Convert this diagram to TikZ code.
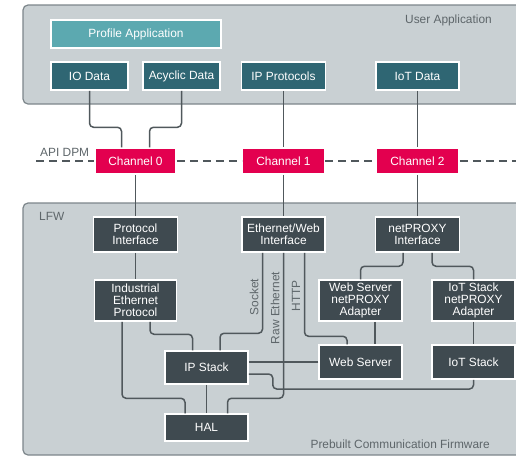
\documentclass[tikz,border=0pt]{standalone}
\usepackage{fontspec}
\setmainfont{Liberation Sans}
\usepackage{tikz}
\definecolor{panelfill}{HTML}{C9D0D3}
\definecolor{paneldraw}{HTML}{7D868B}
\definecolor{tealapp}{HTML}{5CA9B0}
\definecolor{tealdark}{HTML}{2F6673}
\definecolor{chred}{HTML}{E3004F}
\definecolor{slate}{HTML}{3F4A50}
\definecolor{wirecol}{HTML}{50585C}
\definecolor{labelgray}{HTML}{5E666A}

\begin{document}
\begin{tikzpicture}[x=1pt, y=-1pt, font=\fontsize{11.9}{12}\selectfont,
	panel/.style={draw=paneldraw, fill=panelfill, line width=1.2pt, rounded corners=5pt},
	blk/.style={draw=white, line width=1.5pt, text=white, align=center, inner sep=0pt, minimum width=83pt},
	appbox/.style={blk, fill=tealapp, minimum height=28pt},
	databox/.style={blk, fill=tealdark, minimum height=28pt},
	chan/.style={blk, fill=chred, minimum height=26pt},
	fwbox/.style={blk, fill=slate},
	wire/.style={draw=wirecol, line width=1.5pt, rounded corners=4pt},
	lbl/.style={text=labelgray, inner sep=0pt},
	dpm/.style={draw=wirecol, line width=1.2pt, dash pattern=on 8pt off 5pt}]
			\useasboundingbox (0,0) rectangle (516,456);
			\draw[panel] (23,5) rectangle (540,104);
			\draw[panel] (23,203) rectangle (540,455);
			\node[lbl, anchor=east] (userapp) at (492,20) {User Application};
			\node[lbl, anchor=west] (apidpm) at (40,152) {API DPM};
			\node[lbl, anchor=west] (lfw) at (39,216) {LFW};
			\node[lbl, anchor=east] (prebuilt) at (490,444) {Prebuilt Communication Firmware};
			\node[appbox, minimum width=170pt] (profapp) at (136,34) {Profile Application};
			\node[databox, minimum width=77pt] (iodata) at (89.5,76) {IO Data};
			\node[databox, minimum width=77pt] (acycdata) at (181.5,76) {Acyclic Data};
			\node[databox, minimum width=84pt] (ipproto) at (283.5,76) {IP Protocols};
			\node[databox] (iotdata) at (417.5,76) {IoT Data};
			\node[chan, minimum width=81pt] (chan0) at (135.5,161) {Channel 0};
			\node[chan, minimum width=82pt] (chan1) at (283.5,161) {Channel 1};
			\node[chan] (chan2) at (417.5,161) {Channel 2};
			\node[fwbox, minimum width=84pt, minimum height=35pt] (protif) at (135.5,234.5) {Protocol\\Interface};
			\node[fwbox, minimum height=35pt] (ethif) at (283.5,234.5) {Ethernet/Web\\Interface};
			\node[fwbox, minimum width=84pt, minimum height=35pt] (proxyif) at (417.5,234.5) {netPROXY\\Interface};
			\node[fwbox, minimum width=82pt, minimum height=41pt] (indeth) at (135.5,300.5) {Industrial\\Ethernet\\Protocol};
			\node[fwbox, minimum height=41pt] (wsadapt) at (360.5,300.5) {Web Server\\netPROXY\\Adapter};
			\node[fwbox, minimum height=41pt] (iotadapt) at (473.5,300.5) {IoT Stack\\netPROXY\\Adapter};
			\node[fwbox, minimum height=33pt] (ipstack) at (206.5,367.5) {IP Stack};
			\node[fwbox, minimum height=34pt] (websrv) at (360.5,362) {Web Server};
			\node[fwbox, minimum height=34pt] (iotstack) at (473.5,362) {IoT Stack};
			\node[fwbox, minimum height=27pt] (hal) at (206.5,427.5) {HAL};
			\node[lbl, rotate=90] (socketlbl) at (254,297) {Socket};
			\node[lbl, rotate=90] (rawlbl) at (275,308) {Raw Ethernet};
			\node[lbl, rotate=90] (httplbl) at (296,296) {HTTP};
			\coordinate (dpmleft) at (36,161);
			\coordinate (dpmright) at (516,161);
			\draw[dpm] 	(dpmleft) -- (chan0.west) (chan0.east) -- (chan1.west)
					(chan1.east) -- (chan2.west) (chan2.east) -- (dpmright);
			\draw[wire] (iodata.south) |- ([xshift=-14pt,yshift=20pt]chan0.north) -- ([xshift=-14pt]chan0.north);
			\draw[wire] (acycdata.south) |- ([xshift=14pt,yshift=20pt]chan0.north) -- ([xshift=14pt]chan0.north);
			\draw[wire] (ipproto) -- (chan1);
			\draw[wire] (iotdata) -- (chan2);
			\draw[wire] (chan0) -- (protif);
			\draw[wire] (chan1) -- (ethif);
			\draw[wire] (chan2) -- (proxyif);
			\draw[wire] (protif) -- (indeth);
			\draw[wire] ([xshift=-21pt]ethif.south) |- ([xshift=13.5pt,yshift=17pt]ipstack.north) -- ([xshift=13.5pt]ipstack.north);
			\draw[wire] (ethif.south) |- ([xshift=21pt,yshift=15pt]hal.north) -- ([xshift=21pt]hal.north);
			\draw[wire] ([xshift=21pt]ethif.south) |- ([xshift=-13.5pt,yshift=8pt]websrv.north) -- ([xshift=-13.5pt]websrv.north);
			\draw[wire] ([xshift=-14.5pt]proxyif.south) |- ([yshift=13pt]wsadapt.north) -- (wsadapt.north);
			\draw[wire] ([xshift=14.5pt]proxyif.south) |- ([yshift=13pt]iotadapt.north) -- (iotadapt.north);
			\draw[wire] ([xshift=14.5pt]wsadapt.south) -- ([xshift=14.5pt]websrv.north);
			\draw[wire] (iotadapt) -- (iotstack);
			\draw[wire] ([xshift=-13.5pt]indeth.south) |- ([xshift=-21.5pt,yshift=15pt]hal.north) -- ([xshift=-21.5pt]hal.north);
			\draw[wire] ([xshift=14.5pt]indeth.south) |- ([xshift=-14pt,yshift=16pt]ipstack.north) -- ([xshift=-14pt]ipstack.north);
			\draw[wire] (ipstack) -- (hal);
			\draw[wire] (websrv.west) -- (websrv.west -| ipstack.east);
			\draw[wire] ([yshift=-6.5pt]ipstack.east) -- ++(24,0) -- ++(0,15) -| (iotstack.south);
		\end{tikzpicture}
\end{document}
